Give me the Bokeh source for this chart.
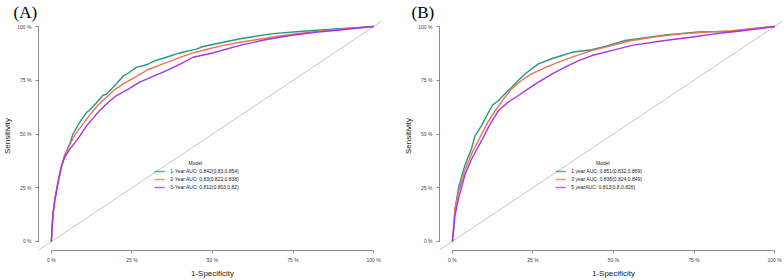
from bokeh.plotting import figure
from bokeh.layouts import row
from bokeh.models import FixedTicker, Title
from bokeh.core.properties import value
from bokeh.embed import file_html
from bokeh.resources import INLINE

# ---------------- data ----------------
tick_vals = [0, 0.25, 0.5, 0.75, 1]
tick_labels = ["0 %", "25 %", "50 %", "75 %", "100 %"]
panel_titles = ["(A)", "(B)"]
legend_title = "Model"

a_labels = ["1-Year AUC: 0.842(0.83,0.854)",
            "2-Year AUC: 0.83(0.822,0.838)",
            "3-Year AUC: 0.812(0.803,0.82)"]
b_labels = ["1 year AUC: 0.851(0.832,0.869)",
            "3 year AUC: 0.836(0.824,0.849)",
            "5 yearAUC: 0.813(0.8,0.826)"]

a1_fpr = [0, 0.002, 0.005, 0.01, 0.016, 0.021, 0.031, 0.041, 0.057, 0.067, 0.088, 0.109, 0.119, 0.14, 0.16, 0.171, 0.2, 0.223, 0.24, 0.264, 0.295, 0.32, 0.357, 0.398, 0.45, 0.471, 0.512, 0.585, 0.688, 0.79, 0.895, 1]
a1_tpr = [0, 0.06, 0.13, 0.19, 0.24, 0.28, 0.35, 0.40, 0.455, 0.50, 0.555, 0.60, 0.612, 0.645, 0.68, 0.686, 0.73, 0.77, 0.785, 0.81, 0.822, 0.84, 0.857, 0.877, 0.895, 0.907, 0.92, 0.943, 0.967, 0.979, 0.99, 1]
a2_fpr = [0, 0.002, 0.005, 0.01, 0.016, 0.021, 0.031, 0.041, 0.057, 0.075, 0.095, 0.12, 0.145, 0.171, 0.195, 0.223, 0.26, 0.3, 0.326, 0.37, 0.43, 0.48, 0.533, 0.6, 0.688, 0.76, 0.844, 0.92, 1]
a2_tpr = [0, 0.06, 0.13, 0.19, 0.24, 0.28, 0.35, 0.40, 0.45, 0.50, 0.54, 0.59, 0.635, 0.671, 0.705, 0.733, 0.765, 0.80, 0.815, 0.84, 0.873, 0.893, 0.912, 0.93, 0.951, 0.967, 0.981, 0.99, 1]
a3_fpr = [0, 0.002, 0.005, 0.01, 0.021, 0.031, 0.041, 0.057, 0.073, 0.088, 0.11, 0.13, 0.15, 0.175, 0.202, 0.24, 0.274, 0.31, 0.357, 0.4, 0.44, 0.5, 0.585, 0.66, 0.74, 0.82, 0.895, 1]
a3_tpr = [0, 0.06, 0.12, 0.183, 0.276, 0.346, 0.39, 0.43, 0.46, 0.49, 0.54, 0.575, 0.609, 0.645, 0.679, 0.71, 0.741, 0.765, 0.795, 0.825, 0.857, 0.877, 0.912, 0.937, 0.958, 0.973, 0.984, 1]

b1_fpr = [0, 0.003, 0.008, 0.019, 0.039, 0.06, 0.07, 0.091, 0.112, 0.125, 0.143, 0.165, 0.184, 0.205, 0.226, 0.267, 0.308, 0.34, 0.371, 0.433, 0.48, 0.536, 0.6, 0.66, 0.764, 0.867, 0.93, 1]
b1_tpr = [0, 0.05, 0.15, 0.25, 0.355, 0.435, 0.49, 0.54, 0.601, 0.635, 0.656, 0.69, 0.718, 0.75, 0.78, 0.826, 0.85, 0.865, 0.88, 0.892, 0.91, 0.935, 0.948, 0.961, 0.975, 0.977, 0.99, 1]
b2_fpr = [0, 0.003, 0.008, 0.019, 0.039, 0.06, 0.091, 0.112, 0.133, 0.16, 0.184, 0.215, 0.246, 0.29, 0.329, 0.38, 0.433, 0.49, 0.557, 0.63, 0.712, 0.8, 0.867, 0.93, 1]
b2_tpr = [0, 0.05, 0.15, 0.23, 0.33, 0.41, 0.50, 0.56, 0.609, 0.665, 0.71, 0.75, 0.78, 0.81, 0.834, 0.862, 0.888, 0.91, 0.935, 0.952, 0.966, 0.975, 0.981, 0.99, 1]
b3_fpr = [0, 0.003, 0.008, 0.019, 0.039, 0.06, 0.091, 0.115, 0.143, 0.175, 0.205, 0.235, 0.267, 0.31, 0.35, 0.39, 0.433, 0.5, 0.557, 0.66, 0.74, 0.815, 0.9, 1]
b3_tpr = [0, 0.04, 0.12, 0.2, 0.31, 0.385, 0.47, 0.54, 0.609, 0.65, 0.679, 0.71, 0.741, 0.78, 0.811, 0.84, 0.865, 0.89, 0.912, 0.935, 0.95, 0.966, 0.98, 1]

colors = ["#23978A", "#F7704F", "#A235F0"]

FONT = "Liberation Sans"


def make_panel(title, curves, labels, left_border, right_border, legend_title_x, title_offset):
    p = figure(frame_width=348, frame_height=229,
               x_range=(-0.04, 1.04), y_range=(-0.0419, 1.0233),
               output_backend="svg", toolbar_location=None, title=None,
               min_border_left=left_border, min_border_right=right_border,
               min_border_top=17, min_border_bottom=28)
    p.outline_line_color = None
    p.xgrid.visible = False
    p.ygrid.visible = False
    p.background_fill_color = "white"
    p.border_fill_color = "white"

    p.add_layout(Title(text=title, text_font="Liberation Serif", text_font_size="17px",
                       text_font_style="normal", align="left", standoff=0,
                       offset=title_offset, text_color="black"), "above")

    overrides = {v: t for v, t in zip(tick_vals, tick_labels)}
    for ax in (p.xaxis[0], p.yaxis[0]):
        ax.ticker = FixedTicker(ticks=tick_vals)
        ax.major_label_overrides = overrides
        ax.bounds = (0, 1)
        ax.axis_line_color = "#8c8c8c"
        ax.major_tick_line_color = "#8c8c8c"
        ax.minor_tick_line_color = None
        ax.major_tick_out = 3
        ax.major_tick_in = 0
        ax.major_label_text_font = FONT
        ax.major_label_text_font_size = "5px"
        ax.major_label_text_color = "#444444"
        ax.axis_label_text_font = FONT
        ax.axis_label_text_font_size = "8px"
        ax.axis_label_text_font_style = "normal"
        ax.axis_label_text_color = "#222222"
    p.xaxis.axis_label = "1-Specificity"
    p.yaxis.axis_label = "Sensitivity"
    p.xaxis.major_label_standoff = 3
    p.xaxis.axis_label_standoff = 3
    p.yaxis.major_label_standoff = 4
    p.yaxis.axis_label_standoff = 2

    # diagonal reference
    p.line([-0.04, 1.04], [-0.04, 1.04], line_color="#c4c4c4", line_width=1)

    for (fx, ty), c in zip(curves, colors):
        p.line(fx, ty, line_color=c, line_width=1.4)

    # legend
    ys = [0.3256, 0.2884, 0.2512]
    p.segment(x0=[0.32] * 3, y0=ys, x1=[0.352] * 3, y1=ys,
              line_color=colors, line_width=1.6, line_alpha=0.75)
    p.text(x=[0.369] * 3, y=ys, text=labels, text_font=value(FONT),
           text_font_size="5px", text_baseline="middle", text_color="#222222")
    p.text(x=[legend_title_x], y=[0.367], text=[legend_title], text_font=value(FONT),
           text_font_size="5px", text_baseline="middle", text_align="center",
           text_color="#222222")
    return p


pA = make_panel(panel_titles[0],
                [(a1_fpr, a1_tpr), (a2_fpr, a2_tpr), (a3_fpr, a3_tpr)],
                a_labels, 32, 12, 0.447, -25)
pB = make_panel(panel_titles[1],
                [(b1_fpr, b1_tpr), (b2_fpr, b2_tpr), (b3_fpr, b3_tpr)],
                b_labels, 41, 3, 0.467, -28)

layout = row(pA, pB)
open("out.html", "w").write(file_html(layout, INLINE))
